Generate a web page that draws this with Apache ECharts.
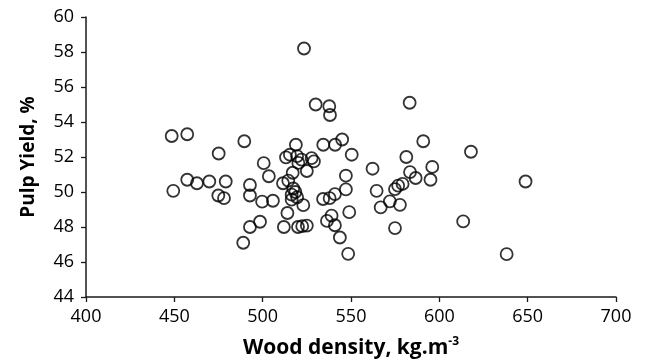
<!DOCTYPE html>
<html>
<head>
<meta charset="utf-8">
<script src="https://cdn.jsdelivr.net/npm/echarts@6/dist/echarts.min.js"></script>
<style>
  html, body { margin: 0; padding: 0; background: #fff; }
  #chart { width: 646px; height: 364px; }
</style>
</head>
<body>
<div id="chart"></div>
<script>
// wood density (kg/m3) and pulp yield (%)
const density = [
  448.5, 457.3, 475.1, 489.6, 500.6, 503.5, 449.4, 457.3, 462.8, 469.8,
  479.1, 474.9, 478.1, 492.8, 492.8, 499.7, 505.8, 498.5, 492.8, 489.0,
  523.4, 530.0, 537.7, 538.1, 583.2, 590.9, 545.0, 541.0, 534.3, 518.8,
  550.4, 581.3, 617.9, 515.4, 513.2, 519.5, 522.0, 527.7, 529.0, 520.2,
  525.0, 517.0, 511.5, 514.5, 517.3, 518.5, 516.4, 519.5, 523.0, 514.0,
  512.0, 520.0, 522.4, 525.0, 534.2, 537.9, 540.9, 547.1, 547.1, 549.0,
  536.4, 539.0, 540.9, 543.7, 548.4, 562.2, 564.5, 566.8, 572.0, 577.7,
  574.9, 576.7, 579.2, 583.4, 586.6, 596.0, 595.0, 574.9, 648.8, 613.5,
  638.1, 516.4
]
const pulpYield = [
  53.2, 53.3, 52.2, 52.9, 51.65, 50.9, 50.07, 50.7, 50.5, 50.6,
  50.6, 49.8, 49.65, 50.4, 49.8, 49.45, 49.5, 48.3, 48.0, 47.1,
  58.2, 55.0, 54.9, 54.4, 55.1, 52.9, 53.0, 52.7, 52.7, 52.7,
  52.13, 52.0, 52.3, 52.13, 51.98, 52.05, 51.85, 51.94, 51.75, 51.66,
  51.2, 51.1, 50.5, 50.65, 50.2, 50.0, 49.85, 49.7, 49.25, 48.8,
  48.0, 48.0, 48.05, 48.08, 49.6, 49.65, 49.88, 50.93, 50.15, 48.85,
  48.35, 48.65, 48.1, 47.4, 46.47, 51.33, 50.07, 49.12, 49.47, 49.27,
  50.17, 50.36, 50.46, 51.14, 50.8, 51.43, 50.7, 47.94, 50.6, 48.32,
  46.45, 49.56
]
const xTicks = [400, 700, 50]
const yTicks = [44, 60, 2]

const chart = echarts.init(document.getElementById('chart'), null, { renderer: 'canvas' })

const tickFont = '"Open Sans", Lato, sans-serif'
const axisColor = '#1a1a1a'

chart.setOption({
  animation: false,
  grid: {
    left: 86,
    right: 30,
    top: 17,
    bottom: 67
  },
  xAxis: {
    type: 'value',
    min: xTicks[0],
    max: xTicks[1],
    interval: xTicks[2],
    splitLine: { show: false },
    axisLine: { lineStyle: { color: axisColor, width: 1.5 } },
    axisTick: { length: 5, lineStyle: { color: axisColor, width: 1.3 } },
    axisLabel: { color: '#000', fontSize: 18, fontFamily: tickFont, margin: 11 },
    name: '{a|Wood density, kg.m}{s|-3}',
    nameLocation: 'middle',
    nameGap: 39,
    nameTextStyle: {
      rich: {
        a: { fontSize: 21, fontWeight: 'bold', fontFamily: '"Open Sans", sans-serif', color: '#000', lineHeight: 25 },
        s: { fontSize: 12, fontWeight: 'bold', fontFamily: '"Open Sans", sans-serif', color: '#000', verticalAlign: 'top', lineHeight: 25, padding: [0, 0, 8, 0] }
      }
    }
  },
  yAxis: {
    type: 'value',
    min: yTicks[0],
    max: yTicks[1],
    interval: yTicks[2],
    splitLine: { show: false },
    axisLine: { show: true, lineStyle: { color: axisColor, width: 1.5 } },
    axisTick: { show: true, length: 5, lineStyle: { color: axisColor, width: 1.3 } },
    axisLabel: { color: '#000', fontSize: 18, fontFamily: tickFont, margin: 12 },
    name: 'Pulp Yield, %',
    nameLocation: 'middle',
    nameGap: 48,
    nameTextStyle: { fontSize: 19, fontWeight: 'bold', fontFamily: '"Open Sans", sans-serif', color: '#000' }
  },
  series: [
    {
      type: 'scatter',
      data: density.map((d, i) => [d, pulpYield[i]]),
      symbol: 'circle',
      symbolSize: 12,
      itemStyle: {
        color: 'rgba(255,255,255,0)',
        borderColor: '#000',
        borderWidth: 1.8
      }
    }
  ]
})
</script>
</body>
</html>
